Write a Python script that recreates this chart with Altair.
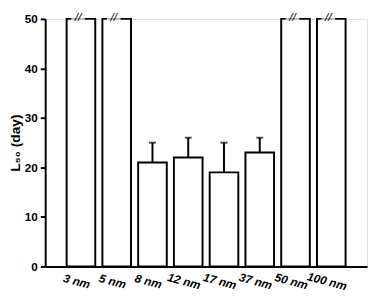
import altair as alt
import pandas as pd

sizes = ["3 nm", "5 nm", "8 nm", "12 nm", "17 nm", "37 nm", "50 nm", "100 nm"]
l50 = [50, 50, 21, 22, 19, 23, 50, 50]
err_top = [None, None, 25, 26, 25, 26, None, None]
truncated = [True, True, False, False, False, False, True, True]

df = pd.DataFrame({"size": sizes, "l50": l50, "err": err_top, "trunc": truncated})

xenc = alt.X("size:N", sort=sizes,
             scale=alt.Scale(paddingInner=0.2, paddingOuter=0.6),
             axis=alt.Axis(title=None, labelAngle=15, labelFontWeight="bold",
                           labelFontStyle="italic",
                           labelFontSize=12, labelFont="Liberation Sans",
                           labelColor="black", ticks=False, domainColor="black",
                           domainWidth=2, labelPadding=10, labelAlign="center",
                           labelBaseline="top", labelOffset=-3))
yscale = alt.Scale(domain=[0, 50], nice=False)

bars = alt.Chart(df).mark_bar(fill="white", stroke="black", strokeWidth=2).encode(
    x=xenc,
    y=alt.Y("l50:Q", scale=yscale,
            axis=alt.Axis(title="L₅₀ (day)", values=[0, 10, 20, 30, 40, 50],
                          grid=False, domainColor="black", domainWidth=2,
                          tickColor="black", tickWidth=2, tickSize=5,
                          labelFont="Liberation Sans", labelFontWeight="bold",
                          labelFontSize=12, labelColor="black", labelPadding=3,
                          titleFont="Liberation Sans", titleFontWeight="bold",
                          titleFontSize=14, titleColor="black", titlePadding=2)),
)

errdf = df[df["err"].notna()]
err_rule = alt.Chart(errdf).mark_rule(color="black", strokeWidth=2).encode(
    x=alt.X("size:N", sort=sizes), y=alt.Y("l50:Q", scale=yscale), y2="err:Q")
err_cap = alt.Chart(errdf).mark_tick(color="black", orient="horizontal", size=7, thickness=2).encode(
    x=alt.X("size:N", sort=sizes), y=alt.Y("err:Q", scale=yscale))

trdf = df[df["trunc"]]
gap = alt.Chart(trdf).mark_tick(color="white", orient="horizontal", size=14, thickness=5,
                                xOffset=-3).encode(
    x=alt.X("size:N", sort=sizes), y=alt.Y("l50:Q", scale=yscale))
slashes = alt.Chart(trdf).mark_text(text="//", font="Liberation Sans", fontSize=12,
                                    fontStyle="italic", color="black", dy=-2, dx=-3,
                                    baseline="middle").encode(
    x=alt.X("size:N", sort=sizes), y=alt.Y("l50:Q", scale=yscale))

chart = alt.layer(bars, err_rule, err_cap, gap, slashes).properties(
    width=329, height=253,
    autosize=alt.AutoSizeParams(type="none"),
    padding={"left": 38, "top": 8, "right": 2, "bottom": 22},
).configure_view(stroke=None).configure(background="white")

chart.save("out.html", embed_options={"renderer": "svg", "actions": False})
